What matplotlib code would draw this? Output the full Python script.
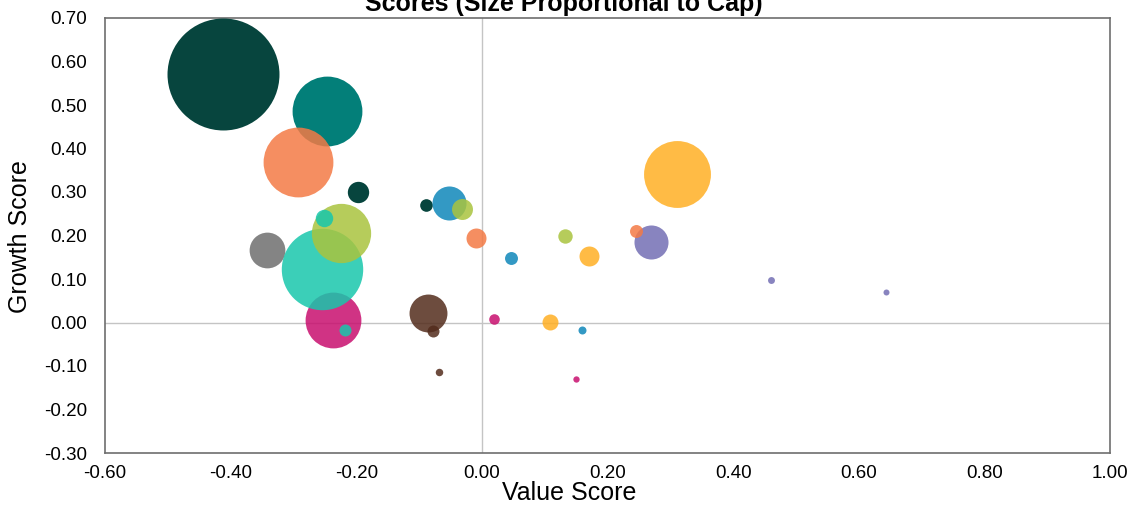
import numpy as np
import matplotlib.pyplot as plt
from matplotlib.ticker import FormatStrFormatter

plt.rcParams['font.family'] = ['Liberation Sans', 'DejaVu Sans']

# Bubbles in drawing order (later ones sit on top)
value_score = [-0.412, -0.246, -0.293, -0.342, -0.237, -0.255, -0.224, -0.252, -0.218,
               -0.198, -0.089, -0.053, -0.032, -0.010, 0.046, -0.086, -0.078, -0.069,
               0.019, 0.150, 0.109, 0.159, 0.132, 0.170, 0.269, 0.245, 0.311, 0.460, 0.643]
growth_score = [0.572, 0.487, 0.370, 0.166, 0.005, 0.122, 0.206, 0.241, -0.018,
                0.300, 0.271, 0.274, 0.260, 0.195, 0.148, 0.021, -0.020, -0.113,
                0.009, -0.131, 0.002, -0.017, 0.198, 0.154, 0.184, 0.211, 0.341, 0.097, 0.071]
cap = [314, 122, 122, 32, 78, 166, 88, 7.6, 3.6,
       11.4, 4.0, 29, 11, 10, 4.2, 36, 3.6, 1.4,
       2.8, 1.0, 6.4, 1.6, 5.2, 10, 29, 4.2, 112, 1.2, 0.9]
group = ['dkgreen', 'teal', 'orange', 'gray', 'magenta', 'turq', 'lime', 'turq', 'turq',
         'dkgreen', 'dkgreen', 'blue', 'lime', 'orange', 'blue', 'brown', 'brown', 'brown',
         'magenta', 'magenta', 'yellow', 'blue', 'lime', 'yellow', 'purple', 'orange',
         'yellow', 'purple', 'purple']

palette = {
    'dkgreen': ('#07453e', 1.0),
    'teal': ('#037f79', 1.0),
    'orange': ('#f47a45', 0.85),
    'gray': ('#6e6e6e', 0.85),
    'magenta': ('#c80f6e', 0.85),
    'turq': ('#18c7ac', 0.85),
    'lime': ('#a9c43e', 0.85),
    'blue': ('#0f87ba', 0.85),
    'brown': ('#532c1c', 0.85),
    'yellow': ('#ffaf24', 0.85),
    'purple': ('#736eb4', 0.85),
}

x_ticks = np.round(np.arange(-0.6, 1.01, 0.2), 2)
y_ticks = np.round(np.arange(-0.3, 0.71, 0.1), 2)

fig = plt.figure(figsize=(11.27, 5.05), dpi=100)
ax = fig.add_axes([105 / 1127, 1 - 453 / 505, 1005 / 1127, 435 / 505])

# bubble area proportional to cap
area_scale = 20.7
for xv, yv, c, g in zip(value_score, growth_score, cap, group):
    col, a = palette[g]
    ax.scatter(xv, yv, s=c * area_scale, color=col, alpha=a, linewidths=0, zorder=3)

ax.axvline(0, color='#c4c4c4', lw=1, zorder=1)
ax.axhline(0, color='#c4c4c4', lw=1, zorder=1)

ax.set_xlim(-0.6, 1.0)
ax.set_ylim(-0.3, 0.7)
ax.set_xticks(x_ticks)
ax.set_yticks(y_ticks)
ax.xaxis.set_major_formatter(FormatStrFormatter('%.2f'))
ax.yaxis.set_major_formatter(FormatStrFormatter('%.2f'))
ax.tick_params(axis='both', length=0, labelsize=13.5, colors='#000000')
ax.tick_params(axis='x', pad=9)
ax.tick_params(axis='y', pad=13)

for sp in ax.spines.values():
    sp.set_color('#6e6e6e')
    sp.set_linewidth(1.2)

ax.set_xlabel('Value Score', fontsize=18, va='center')
ax.xaxis.set_label_coords(0.462, -0.092)
ax.set_ylabel('Growth Score', fontsize=18, va='center')
ax.yaxis.set_label_coords(-0.085, 0.497)

fig.text(0.5, 1 - 11.5 / 505, 'Scores (Size Proportional to Cap)', ha='center',
         va='baseline', fontsize=18, fontweight='bold')

fig.savefig('out.png', dpi=100)
